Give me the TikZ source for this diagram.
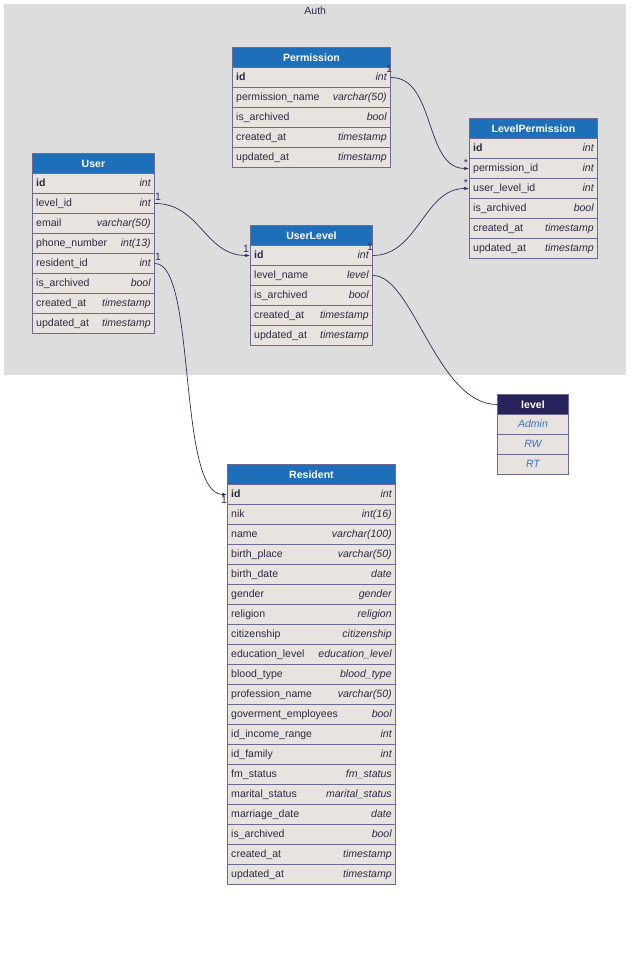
\documentclass[tikz,border=0pt]{standalone}
\usepackage{fontspec}
\setmainfont{Liberation Sans}
\usetikzlibrary{positioning,arrows.meta,calc}

\definecolor{hdblue}{HTML}{1E6FBA}
\definecolor{rowbg}{HTML}{E8E3DE}
\definecolor{tblline}{HTML}{6C6A92}
\definecolor{enumhd}{HTML}{25235A}
\definecolor{enumtxt}{HTML}{3B72BD}
\definecolor{authbg}{HTML}{DDDDDD}
\definecolor{txtcol}{HTML}{2B2945}
\definecolor{linkcol}{HTML}{2E2C5E}

% name, left, top, width, title, rows
\newcommand{\erdtable}[6]{%
  \node[tblhead,minimum width=#4*0.03cm,anchor=north west] (#1-0) at (#2,#3) {#5};
  \foreach \fld/\typ [count=\i] in {#6} {
    \node[tblrow,minimum width=#4*0.03cm,anchor=north west] (#1-\i) at (#2,{#3+20*\i}) {};
    \node[fldtext,anchor=west] (#1-\i-f) at ($(#1-\i.west)+(4,0)$) {\fld};
    \node[typtext,anchor=east] (#1-\i-t) at ($(#1-\i.east)+(-4,0)$) {\typ};
  }
}

\begin{document}
\begin{tikzpicture}[x=0.03cm,y=-0.03cm,
  tblhead/.style={rectangle,draw=tblline,line width=0.8pt,fill=hdblue,text=white,font=\fontsize{9}{10}\selectfont\bfseries,minimum height=20*0.03cm,inner sep=0pt},
  tblrow/.style={rectangle,draw=tblline,line width=0.8pt,fill=rowbg,minimum height=20*0.03cm,inner sep=0pt},
  fldtext/.style={inner sep=0pt,text=txtcol,text height=6.8pt,text depth=2pt,font=\fontsize{9}{10}\selectfont},
  typtext/.style={fldtext,font=\fontsize{9}{10}\selectfont\itshape},
  enumhead/.style={tblhead,fill=enumhd},
  enumval/.style={fldtext,text=enumtxt,font=\fontsize{9}{10}\selectfont\itshape},
  rel/.style={draw=linkcol,line width=0.6pt,-{Latex[length=4pt,width=3pt]}},
  plainrel/.style={draw=linkcol,line width=0.6pt},
  mult/.style={inner sep=0pt,text=linkcol,font=\fontsize{9}{10}\selectfont},
]
\useasboundingbox (0,0) rectangle (630,974);

% Auth cluster
\node[rectangle,fill=authbg,anchor=north west,minimum width=622*0.03cm,minimum height=371*0.03cm,inner sep=0pt] (auth) at (4,4) {};
\node[fldtext,anchor=north] (auth-title) at ($(auth.north)+(0,2)$) {Auth};

% Tables
\erdtable{perm}{232}{47}{158}{Permission}{\textbf{id}/int, permission\_name/varchar(50), is\_archived/bool, created\_at/timestamp, updated\_at/timestamp}
\erdtable{lvlperm}{469}{118}{128}{LevelPermission}{\textbf{id}/int, permission\_id/int, user\_level\_id/int, is\_archived/bool, created\_at/timestamp, updated\_at/timestamp}
\erdtable{user}{32}{153}{122}{User}{\textbf{id}/int, level\_id/int, email/varchar(50), phone\_number/int(13), resident\_id/int, is\_archived/bool, created\_at/timestamp, updated\_at/timestamp}
\erdtable{ulevel}{250}{225}{122}{UserLevel}{\textbf{id}/int, level\_name/level, is\_archived/bool, created\_at/timestamp, updated\_at/timestamp}
\erdtable{res}{227}{464}{168}{Resident}{\textbf{id}/int, nik/int(16), name/varchar(100), birth\_place/varchar(50), birth\_date/date, gender/gender, religion/religion, citizenship/citizenship, education\_level/education\_level, blood\_type/blood\_type, profession\_name/varchar(50), goverment\_employees/bool, id\_income\_range/int, id\_family/int, fm\_status/fm\_status, marital\_status/marital\_status, marriage\_date/date, is\_archived/bool, created\_at/timestamp, updated\_at/timestamp}

% Enum level
\node[enumhead,minimum width=71*0.03cm,anchor=north west] (level-0) at (497,394) {level};
\foreach \val [count=\i] in {Admin, RW, RT} {
  \node[tblrow,minimum width=71*0.03cm,anchor=north west] (level-\i) at (497,{394+20*\i}) {};
  \node[enumval] (level-\i-v) at (level-\i.center) {\val};
}

% Relations
\draw[rel] (perm-1.east) .. controls +(45,0) and +(-45,0) .. (lvlperm-2.west);
\draw[rel] (ulevel-1.east) .. controls +(45,0) and +(-45,0) .. (lvlperm-3.west);
\draw[rel] (user-2.east) .. controls +(45,0) and +(-45,0) .. (ulevel-1.west);
\draw[rel] (user-5.east) .. controls +(42,0) and +(-50,0) .. (res-1.west);
\draw[plainrel] (ulevel-2.east) .. controls +(40,0) and +(-60,0) .. (level-0.west);

% Multiplicities
\node[mult] (m-perm) at (389,69) {1};
\node[mult] (m-lp1) at (466,163) {*};
\node[mult] (m-ul) at (370,247) {1};
\node[mult] (m-lp2) at (466,183) {*};
\node[mult] (m-user1) at (158,197) {1};
\node[mult] (m-ul2) at (246,249) {1};
\node[mult] (m-user2) at (158,257) {1};
\node[mult] (m-res) at (224,500) {1};

\end{tikzpicture}
\end{document}
